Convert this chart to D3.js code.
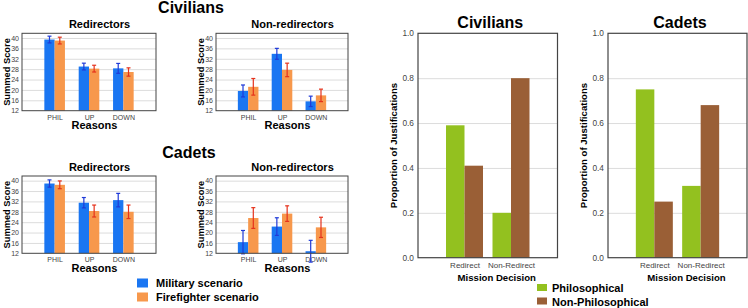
<!DOCTYPE html>
<html><head><meta charset="utf-8">
<script src="https://cdn.jsdelivr.net/npm/d3@7"></script>
<style>
body{margin:0;background:#fff;}
svg{display:block;font-family:"Liberation Sans",Arial,sans-serif;}
</style></head>
<body><svg id="c" width="748" height="308"></svg>
<script>
// ---- data ----
const reasons = ["PHIL","UP","DOWN"];
const scenarios = ["Military scenario","Firefighter scenario"];
const scoreTicks = [12,16,20,24,28,32,36,40];

const civRedirMil = [39.4, 29.0, 28.3];
const civRedirMilErr = [1.3, 1.3, 1.9];
const civRedirFire = [39.0, 28.2, 26.9];
const civRedirFireErr = [1.3, 1.3, 1.6];

const civNonMil = [19.6, 33.9, 15.6];
const civNonMilErr = [2.3, 2.1, 2.0];
const civNonFire = [21.2, 27.7, 17.9];
const civNonFireErr = [3.2, 2.6, 2.4];

const cadRedirMil = [38.9, 31.5, 32.5];
const cadRedirMilErr = [1.4, 2.0, 2.6];
const cadRedirFire = [38.4, 28.3, 28.0];
const cadRedirFireErr = [1.5, 2.3, 2.6];

const cadNonMil = [16.3, 22.3, 12.8];
const cadNonMilErr = [4.5, 3.4, 4.2];
const cadNonFire = [25.6, 27.3, 22.0];
const cadNonFireErr = [4.0, 3.0, 3.9];

const decisions = ["Redirect","Non-Redirect"];
const justTypes = ["Philosophical","Non-Philosophical"];
const propTicks = [0,0.2,0.4,0.6,0.8,1.0];
const civPhil = [0.59, 0.20];
const civNonPhil = [0.41, 0.80];
const cadPhil = [0.75, 0.32];
const cadNonPhil = [0.25, 0.68];

// ---- style ----
const BLUE="#1a76f2", ORANGE="#f7984c", BLUE_ERR="#1f3ad8", ORANGE_ERR="#e5321c";
const GREEN="#93c11f", BROWN="#9a5f36";
const FRAME="#444", GRID="#dcdcdc", TICKTXT="#444";

const svg = d3.select("#c");

function scorePanel(x0,x1,y0,y1,title,mil,milErr,fire,fireErr){
  const g = svg.append("g");
  const y = d3.scaleLinear().domain([12,41.8]).range([y1,y0]);
  const x = d3.scalePoint().domain(reasons).range([x0,x1]).padding(0.95);
  const bw = 10.3;
  // grid
  g.append("g").attr("transform",`translate(${x0},0)`)
    .call(d3.axisLeft(y).tickValues(scoreTicks.slice(1)).tickSize(-(x1-x0)).tickFormat(""))
    .call(a=>{a.select(".domain").remove();a.selectAll("line").attr("stroke",GRID);});
  // labels
  g.append("g").attr("transform",`translate(${x0},0)`)
    .call(d3.axisLeft(y).tickValues(scoreTicks).tickSize(0).tickPadding(3))
    .call(a=>{a.select(".domain").remove();a.selectAll("text").attr("font-size",7).attr("fill",TICKTXT).attr("font-family","Liberation Sans, Arial");});
  g.append("g").attr("transform",`translate(0,${y1})`)
    .call(d3.axisBottom(x).tickSize(0).tickPadding(4))
    .call(a=>{a.select(".domain").remove();a.selectAll("text").attr("font-size",7).attr("fill",TICKTXT).attr("font-family","Liberation Sans, Arial");});
  const series=[{v:mil,e:milErr,c:BLUE,ec:BLUE_ERR,off:-bw},{v:fire,e:fireErr,c:ORANGE,ec:ORANGE_ERR,off:0}];
  series.forEach(s=>{
    g.selectAll(null).data(reasons).enter().append("rect")
      .attr("x",d=>x(d)+s.off).attr("width",bw)
      .attr("y",(d,i)=>y(s.v[i])).attr("height",(d,i)=>y1-y(s.v[i]))
      .attr("fill",s.c);
  });
  series.forEach(s=>{
    const eg = g.selectAll(null).data(reasons).enter().append("g").attr("stroke",s.ec).attr("stroke-width",1.2);
    const cx = d=>x(d)+s.off+bw/2;
    eg.append("line").attr("x1",cx).attr("x2",cx)
      .attr("y1",(d,i)=>y(s.v[i]-s.e[i])).attr("y2",(d,i)=>y(s.v[i]+s.e[i]));
    [1,-1].forEach(sg=>{
      eg.append("line").attr("x1",d=>cx(d)-2).attr("x2",d=>cx(d)+2)
        .attr("y1",(d,i)=>y(s.v[i]+sg*s.e[i])).attr("y2",(d,i)=>y(s.v[i]+sg*s.e[i]));
    });
  });
  g.append("rect").attr("x",x0).attr("y",y0).attr("width",x1-x0).attr("height",y1-y0)
    .attr("fill","none").attr("stroke",FRAME).attr("stroke-width",1);
  const cx=(x0+x1)/2;
  g.append("text").attr("x",cx+10.5).attr("y",y0-5).attr("text-anchor","middle")
    .attr("font-size",11).attr("font-weight","bold").text(title);
  g.append("text").attr("x",cx+5.5).attr("y",y1+18.6).attr("text-anchor","middle")
    .attr("font-size",11).attr("font-weight","bold").text("Reasons");
  g.append("text").attr("transform",`translate(${x0-12},${(y0+y1)/2}) rotate(-90)`)
    .attr("text-anchor","middle").attr("font-size",9.3).attr("font-weight","bold").text("Summed Score");
}

scorePanel(22,156,33.3,110.7,"Redirectors",civRedirMil,civRedirMilErr,civRedirFire,civRedirFireErr);
scorePanel(216,348,33.3,110.7,"Non-redirectors",civNonMil,civNonMilErr,civNonFire,civNonFireErr);
scorePanel(22,156,176,253.3,"Redirectors",cadRedirMil,cadRedirMilErr,cadRedirFire,cadRedirFireErr);
scorePanel(216,348,176,253.3,"Non-redirectors",cadNonMil,cadNonMilErr,cadNonFire,cadNonFireErr);

svg.append("text").attr("x",191).attr("y",13).attr("text-anchor","middle")
  .attr("font-size",16).attr("font-weight","bold").text("Civilians");
svg.append("text").attr("x",189).attr("y",157.5).attr("text-anchor","middle")
  .attr("font-size",16).attr("font-weight","bold").text("Cadets");

// left legend
const lleg = svg.append("g");
lleg.selectAll("rect").data(scenarios).enter().append("rect")
  .attr("x",137).attr("y",(d,i)=>278.5+i*14).attr("width",11).attr("height",9)
  .attr("fill",(d,i)=>[BLUE,ORANGE][i]);
lleg.selectAll("text").data(scenarios).enter().append("text")
  .attr("x",156).attr("y",(d,i)=>287+i*14).attr("font-size",11).attr("font-weight","bold").text(d=>d);

function propPanel(x0,x1,y0,y1,title,phil,nonphil){
  const g = svg.append("g");
  const y = d3.scaleLinear().domain([0,1]).range([y1,y0]);
  const x = d3.scalePoint().domain(decisions).range([x0,x1]).padding(1);
  const bw = 18.5;
  g.append("g").attr("transform",`translate(${x0},0)`)
    .call(d3.axisLeft(y).tickValues(propTicks.slice(1,-1)).tickSize(-(x1-x0)).tickFormat(""))
    .call(a=>{a.select(".domain").remove();a.selectAll("line").attr("stroke",GRID);});
  g.append("g").attr("transform",`translate(${x0},0)`)
    .call(d3.axisLeft(y).tickValues(propTicks).tickFormat(d3.format(".1f")).tickSize(0).tickPadding(4))
    .call(a=>{a.select(".domain").remove();a.selectAll("text").attr("font-size",8.3).attr("fill",TICKTXT).attr("font-family","Liberation Sans, Arial");});
  g.append("g").attr("transform",`translate(0,${y1})`)
    .call(d3.axisBottom(x).tickSize(0).tickPadding(5))
    .call(a=>{a.select(".domain").remove();a.selectAll("text").attr("font-size",8).attr("fill",TICKTXT).attr("font-family","Liberation Sans, Arial");});
  [{v:phil,c:GREEN,off:-bw},{v:nonphil,c:BROWN,off:0}].forEach(s=>{
    g.selectAll(null).data(decisions).enter().append("rect")
      .attr("x",d=>x(d)+s.off).attr("width",bw)
      .attr("y",(d,i)=>y(s.v[i])).attr("height",(d,i)=>y1-y(s.v[i]))
      .attr("fill",s.c);
  });
  g.append("rect").attr("x",x0).attr("y",y0).attr("width",x1-x0).attr("height",y1-y0)
    .attr("fill","none").attr("stroke",FRAME).attr("stroke-width",1.2);
  const cx=(x0+x1)/2;
  g.append("text").attr("x",cx+2.5).attr("y",y0-5).attr("text-anchor","middle")
    .attr("font-size",16).attr("font-weight","bold").text(title);
  g.append("text").attr("x",cx+9).attr("y",y1+23).attr("text-anchor","middle")
    .attr("font-size",9.6).attr("font-weight","bold").text("Mission Decision");
  g.append("text").attr("transform",`translate(${x0-21},${(y0+y1)/2+0})`+" rotate(-90)")
    .attr("text-anchor","middle").attr("font-size",9.6).attr("font-weight","bold").text("Proportion of Justifications");
}
propPanel(418,557.5,33.3,257.7,"Civilians",civPhil,civNonPhil);
propPanel(608,747,33.3,257.7,"Cadets",cadPhil,cadNonPhil);

// right legend
const rleg = svg.append("g");
rleg.selectAll("rect").data(justTypes).enter().append("rect")
  .attr("x",537).attr("y",(d,i)=>284+i*13.5).attr("width",10).attr("height",7)
  .attr("fill",(d,i)=>[GREEN,BROWN][i]);
rleg.selectAll("text").data(justTypes).enter().append("text")
  .attr("x",552).attr("y",(d,i)=>291.7+i*14).attr("font-size",11).attr("font-weight","bold").text(d=>d);
</script></body></html>
